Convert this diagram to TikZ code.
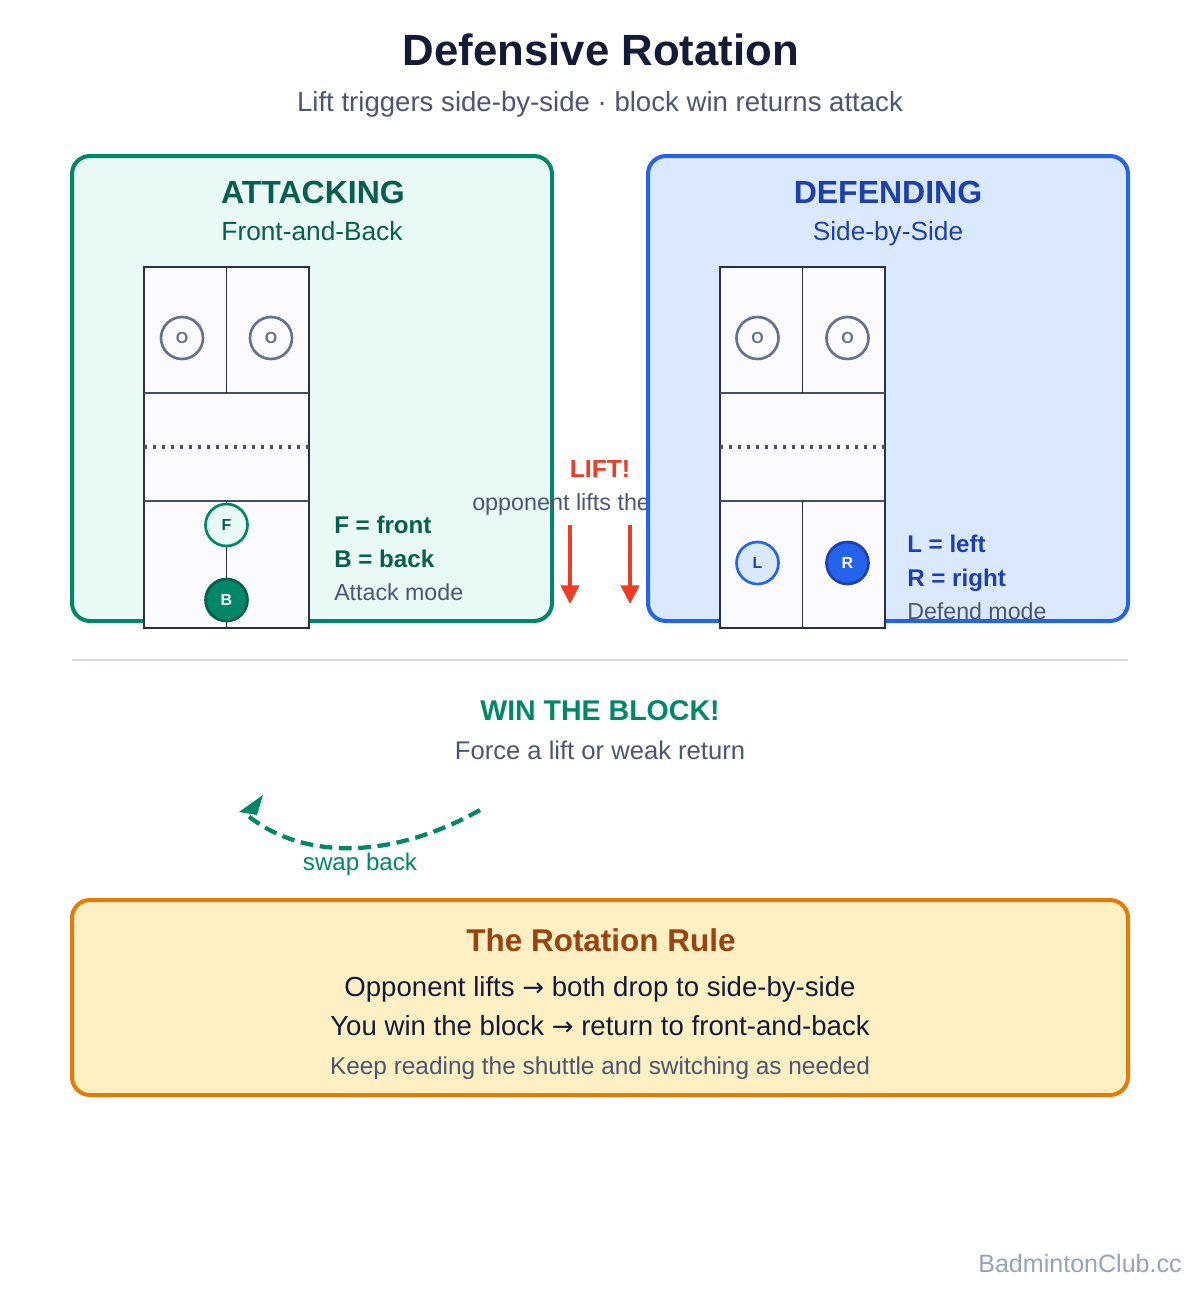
\documentclass[tikz,border=0pt]{standalone}
\usepackage{fontspec}
\setmainfont{Liberation Sans}
\newfontfamily\arrowfont{DejaVu Sans}
\usetikzlibrary{arrows.meta}

\definecolor{inkdark}{HTML}{141B38}
\definecolor{inkgrey}{HTML}{4B5574}
\definecolor{inkpale}{HTML}{94A3B8}
\definecolor{inkoppo}{HTML}{66708F}
\definecolor{attackline}{HTML}{008768}
\definecolor{attackfill}{HTML}{E9F9F6}
\definecolor{attackdark}{HTML}{065F4E}
\definecolor{defendline}{HTML}{2563EB}
\definecolor{defendfill}{HTML}{DBE9FE}
\definecolor{defenddark}{HTML}{1E40AF}
\definecolor{ruleline}{HTML}{E57A05}
\definecolor{rulefill}{HTML}{FEF0C3}
\definecolor{ruledark}{HTML}{9A4210}
\definecolor{courtline}{HTML}{2A3048}
\definecolor{courtfill}{HTML}{FAFAFF}
\definecolor{liftred}{HTML}{EF3A24}
\definecolor{sepline}{HTML}{D1D6E8}

\newcommand{\px}[2]{\fontsize{#1}{#1}\selectfont #2}
\newcommand{\toarrow}{{\arrowfont\fontsize{19.5}{19.5}\selectfont →}}

\tikzset{
    panel/.style={draw, line width=3pt, rounded corners=13.5pt},
    court/.style={draw=courtline, line width=2.2pt, fill=courtfill},
    courtmid/.style={draw=inkgrey!80!courtline, line width=1.8pt},
    courtcut/.style={draw=courtline, line width=1.2pt},
    courtnet/.style={draw=courtline!85!white, line width=2.4pt, dash pattern=on 2.4pt off 4.35pt},
    player/.style={circle, draw, line width=2pt, minimum size=31.5pt, inner sep=0pt, font=\px{12}{}\bfseries},
    oppo/.style={player, draw=inkoppo, fill=courtfill, text=inkoppo},
    label/.style={anchor=base, inner sep=0pt},
    leftlabel/.style={anchor=base west, inner sep=0pt},
    liftarrow/.style={draw=liftred, line width=3pt, -{Triangle[length=14pt,width=13.5pt]}},
}

\begin{document}
\begin{tikzpicture}[x=0.75pt, y=-0.75pt]
    \useasboundingbox (0,0) rectangle (1200,1290);

    % heading
    \node [label, text=inkdark, font=\px{32.8}{}\bfseries] (title) at (601,65) {Defensive Rotation};
    \node [label, text=inkgrey, font=\px{20.7}{}] (subtitle) at (600,111) {Lift triggers side-by-side · block win returns attack};

    % attacking panel
    \path [panel, draw=attackline, fill=attackfill] (72,156) rectangle (552,621);
    \node [label, text=attackdark, font=\px{24}{}\bfseries] (attacktitle) at (313,203) {ATTACKING};
    \node [label, text=attackdark, font=\px{19.7}{}] (attacksub) at (312,240) {Front-and-Back};

    \path [court] (144,267) rectangle (309,628);
    \path [courtmid] (144,393) -- (309,393);
    \path [courtmid] (144,501) -- (309,501);
    \path [courtnet] (144,447) -- (309,447);
    \path [courtcut] (226.5,267) -- (226.5,393);
    \path [courtcut] (226.5,501) -- (226.5,628);

    \node [oppo] (attackoa) at (182,338) {O};
    \node [oppo] (attackob) at (271,338) {O};
    \node [player, draw=attackline, fill=attackfill, text=attackdark] (front) at (226.5,525) {F};
    \node [player, draw=attackdark, fill=attackline, text=white] (back) at (226.5,600) {B};

    \node [leftlabel, text=attackdark, font=\px{18.1}{}\bfseries] (frontkey) at (334,533) {F = front};
    \node [leftlabel, text=attackdark, font=\px{18.1}{}\bfseries] (backkey) at (334,567) {B = back};
    \node [leftlabel, text=inkgrey, font=\px{17.4}{}] (attackmode) at (334,600) {Attack mode};

    % lift between the panels
    \node [label, text=liftred, font=\px{18.5}{}\bfseries] (lift) at (600,477) {LIFT!};
    \node [leftlabel, text=inkgrey, font=\px{17.5}{}] (liftnote) at (472,510) {opponent lifts the};

    \coordinate (lifta) at (570,525);
    \coordinate (liftaend) at (570,604);
    \coordinate (liftb) at (630,525);
    \coordinate (liftbend) at (630,604);
    \begin{scope}[every edge/.style={liftarrow}]
        \path (lifta) edge (liftaend);
        \path (liftb) edge (liftbend);
    \end{scope}

    % defending panel
    \path [panel, draw=defendline, fill=defendfill] (648,156) rectangle (1128,621);
    \node [label, text=defenddark, font=\px{24}{}\bfseries] (defendtitle) at (888,203) {DEFENDING};
    \node [label, text=defenddark, font=\px{19.7}{}] (defendsub) at (888,240) {Side-by-Side};

    \path [court] (720,267) rectangle (885,628);
    \path [courtmid] (720,393) -- (885,393);
    \path [courtmid] (720,501) -- (885,501);
    \path [courtnet] (720,447) -- (885,447);
    \path [courtcut] (802.5,267) -- (802.5,393);
    \path [courtcut] (802.5,501) -- (802.5,628);

    \node [oppo] (defendoa) at (757.5,338) {O};
    \node [oppo] (defendob) at (847.5,338) {O};
    \node [player, draw=defendline, fill=defendfill, text=defenddark] (left) at (757.5,563) {L};
    \node [player, draw=defenddark, fill=defendline, text=white] (right) at (847.5,563) {R};

    \node [leftlabel, text=defenddark, font=\px{18.1}{}\bfseries] (leftkey) at (907,552) {L = left};
    \node [leftlabel, text=defenddark, font=\px{18.1}{}\bfseries] (rightkey) at (907,586) {R = right};
    \node [leftlabel, text=inkgrey, font=\px{17.4}{}] (defendmode) at (907,619) {Defend mode};

    % separator
    \coordinate (sepa) at (72,660);
    \coordinate (sepb) at (1128,660);
    \path [draw=sepline, line width=2.2pt] (sepa) -- (sepb);

    % win the block
    \node [label, text=attackline, font=\px{21.4}{}\bfseries] (win) at (600,720) {WIN THE BLOCK!};
    \node [label, text=inkgrey, font=\px{19.2}{}] (force) at (600,759) {Force a lift or weak return};

    \coordinate (swapa) at (480,810);
    \coordinate (swapb) at (247,815);
    \coordinate (tipa) at (239,812);
    \coordinate (tipb) at (263,795);
    \coordinate (tipc) at (257,815);
    \path [draw=attackline, line width=3.2pt, dash pattern=on 9.5pt off 5pt]
        (swapa) .. controls (395,858) and (305,862) .. (swapb);
    \path [fill=attackline] (tipa) -- (tipb) -- (tipc) -- cycle;
    \node [label, text=attackline, font=\px{18.1}{}] (swap) at (360,870) {swap back};

    % rule box
    \path [panel, draw=ruleline, fill=rulefill] (72,900) rectangle (1128,1095);
    \node [label, text=ruledark, font=\px{23.6}{}\bfseries] (ruletitle) at (601,951) {The Rotation Rule};
    \node [label, text=inkdark, font=\px{20.7}{}] (rulea) at (600,996) {Opponent lifts \toarrow{} both drop to side-by-side};
    \node [label, text=inkdark, font=\px{20.7}{}] (ruleb) at (600,1035) {You win the block \toarrow{} return to front-and-back};
    \node [label, text=inkgrey, font=\px{18.3}{}] (rulec) at (600,1074) {Keep reading the shuttle and switching as needed};

    \node [anchor=base east, inner sep=0pt, text=inkpale, font=\px{18.8}{}] (brand) at (1182,1272) {BadmintonClub.cc};
\end{tikzpicture}
\end{document}
